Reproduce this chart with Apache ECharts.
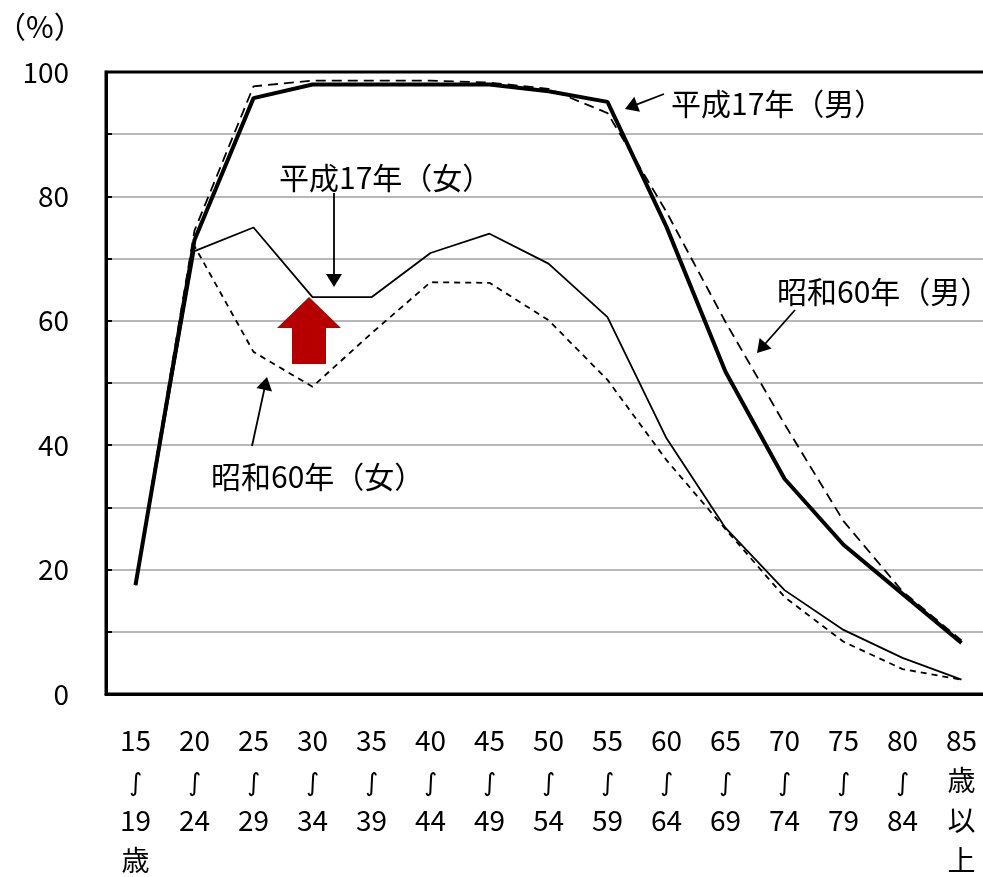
<!DOCTYPE html>
<html><head><meta charset="utf-8">
<script src="https://cdn.jsdelivr.net/npm/echarts@6/dist/echarts.min.js"></script>
<style>html,body{margin:0;padding:0;background:#fff}#c{width:983px;height:877px}</style>
</head><body><div id="c"></div>
<script>
var categories = ['15\n{t|∫}\n19\n歳','20\n{t|∫}\n24','25\n{t|∫}\n29','30\n{t|∫}\n34','35\n{t|∫}\n39','40\n{t|∫}\n44','45\n{t|∫}\n49','50\n{t|∫}\n54','55\n{t|∫}\n59','60\n{t|∫}\n64','65\n{t|∫}\n69','70\n{t|∫}\n74','75\n{t|∫}\n79','80\n{t|∫}\n84','85\n歳\n以\n上'];
var h17Male   = [17.5, 73.0, 95.8, 98.0, 98.0, 98.0, 98.0, 96.9, 95.2, 75.1, 51.8, 34.6, 24.0, 16.1, 8.2];
var s60Male   = [17.8, 74.5, 97.7, 98.6, 98.6, 98.6, 98.3, 97.3, 93.4, 77.5, 59.8, 43.4, 27.8, 16.5, 8.6];
var h17Female = [17.5, 71.2, 75.0, 63.8, 63.8, 70.9, 74.0, 69.2, 60.6, 41.1, 26.7, 16.7, 10.3, 5.8, 2.3];
var s60Female = [17.5, 72.0, 55.0, 49.4, 58.0, 66.2, 66.1, 60.1, 50.5, 37.6, 26.5, 15.6, 8.4, 4.0, 2.3];
var yTicks = [0, 20, 40, 60, 80, 100];
var names = ['平成17年（男）','昭和60年（男）','平成17年（女）','昭和60年（女）'];

var FONT = 'Noto Sans CJK JP';
var chart = echarts.init(document.getElementById('c'));
function arrowHead(x, y, angle, len, half) {
  var bx = x - len * Math.cos(angle), by = y - len * Math.sin(angle);
  var px = -Math.sin(angle) * half, py = Math.cos(angle) * half;
  return {type:'polygon', shape:{points:[[x,y],[bx+px,by+py],[bx-px,by-py]]}, style:{fill:'#000'}, z:20};
}
function arrow(x1, y1, x2, y2) {
  var a = Math.atan2(y2 - y1, x2 - x1);
  var items = [];
  items.push({type:'line', shape:{x1:x1, y1:y1, x2:x2 - 8*Math.cos(a), y2:y2 - 8*Math.sin(a)}, style:{stroke:'#000', lineWidth:1.8}, z:20});
  items.push(arrowHead(x2, y2, a, 13, 8));
  return items;
}
function label(txt, x, y) {
  return {type:'text', x:x, y:y, style:{text:txt, fontSize:30, fontFamily:FONT, fill:'#000', verticalAlign:'middle', align:'left'}, z:20};
}
var graphics = [];
graphics.push({type:'text', x:-4, y:27, style:{text:'（%）', fontSize:30, fontFamily:FONT, fill:'#000', verticalAlign:'middle', align:'left'}, z:20});
graphics.push(label(names[0], 671, 104));
graphics.push(label(names[1], 777, 292));
graphics.push(label(names[2], 279, 178));
graphics.push(label(names[3], 211, 477));
graphics = graphics.concat(arrow(664, 94, 625, 109));
graphics = graphics.concat(arrow(334, 193, 334, 287));
graphics = graphics.concat(arrow(795, 310, 757, 353));
graphics = graphics.concat(arrow(252, 446, 267, 377));
graphics.push({type:'polygon', shape:{points:[[309,297],[341,328],[326,328],[326,364],[292,364],[292,328],[277,328]]}, style:{fill:'#b60000'}, z:20});

chart.setOption({
  animation: false,
  textStyle: {fontFamily: FONT},
  grid: {left:106, right:-8, top:72, bottom:183, show:true, borderColor:'#000', borderWidth:3, containLabel:false, outerBoundsMode:'none', z:3},
  xAxis: {
    type:'category', data:categories, boundaryGap:true,
    axisLine:{lineStyle:{color:'#000', width:3}},
    axisTick:{inside:true, length:6, lineStyle:{color:'#000', width:2}},
    axisLabel:{color:'#000', fontSize:28, lineHeight:40, margin:26, fontFamily:FONT, interval:0,
      rich:{t:{fontSize:25, lineHeight:40, padding:[8,0,0,0], fontFamily:'DejaVu Sans', color:'#000'}}}
  },
  yAxis: {
    type:'value', min:0, max:100, interval:10,
    axisLine:{show:true, lineStyle:{color:'#000', width:3}},
    axisTick:{show:true, inside:true, length:6, lineStyle:{color:'#000', width:2}},
    axisLabel:{color:'#000', fontSize:28, margin:37, fontFamily:FONT,
      formatter:function(v){ return yTicks.indexOf(v) >= 0 ? String(v) : ''; }},
    splitLine:{lineStyle:{color:'#b8b8b8', width:2}}
  },
  series: [
    {name:names[3], type:'line', data:s60Female, symbol:'none', lineStyle:{color:'#000', width:1.8, type:[6,5]}, z:3},
    {name:names[2], type:'line', data:h17Female, symbol:'none', lineStyle:{color:'#000', width:1.8}, z:3},
    {name:names[1], type:'line', data:s60Male, symbol:'none', lineStyle:{color:'#000', width:1.8, type:[10,6]}, z:4},
    {name:names[0], type:'line', data:h17Male, symbol:'none', lineStyle:{color:'#000', width:4}, z:5}
  ],
  graphic: graphics
});
</script></body></html>
